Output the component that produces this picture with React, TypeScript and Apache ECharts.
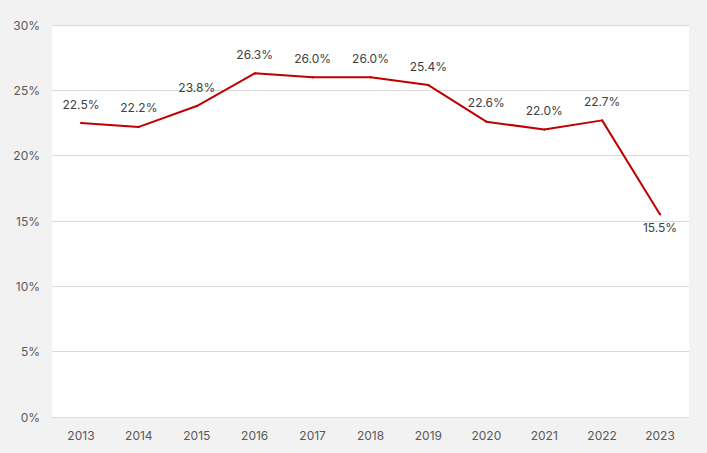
import React, { useEffect, useRef } from "react";
import * as echarts from "echarts";

const years = ["2013", "2014", "2015", "2016", "2017", "2018", "2019", "2020", "2021", "2022", "2023"];
const values = [22.5, 22.2, 23.8, 26.3, 26.0, 26.0, 25.4, 22.6, 22.0, 22.7, 15.5];

export default function App() {
  const ref = useRef<HTMLDivElement>(null);
  useEffect(() => {
    if (!ref.current) return;
    const chart = echarts.init(ref.current, undefined, { renderer: "svg" });
    const font = "Inter, sans-serif";
    const data = values.map((v, i) =>
      i === values.length - 1 ? { value: v, label: { position: "bottom", distance: 6 } } : { value: v }
    );
    chart.setOption({
      animation: false,
      backgroundColor: "#f2f2f2",
      grid: {
        left: 52,
        right: 18,
        top: 25,
        bottom: 36,
        show: true,
        backgroundColor: "#ffffff",
        borderWidth: 0,
      },
      xAxis: {
        type: "category",
        data: years,
        boundaryGap: true,
        axisLine: { show: true, lineStyle: { color: "#d9d9d9" } },
        axisTick: { show: false },
        axisLabel: { color: "#595959", fontFamily: font, fontSize: 12, margin: 12 },
      },
      yAxis: {
        type: "value",
        min: 0,
        max: 30,
        interval: 5,
        axisLine: { show: false },
        axisTick: { show: false },
        splitLine: { lineStyle: { color: "#d9d9d9" } },
        axisLabel: { color: "#595959", fontFamily: font, fontSize: 12, margin: 12, formatter: "{value}%" },
      },
      series: [
        {
          type: "line",
          data,
          showSymbol: true,
          showAllSymbol: true,
          symbol: "circle",
          symbolSize: 2,
          lineStyle: { color: "#c00000", width: 2 },
          itemStyle: { color: "#c00000" },
          label: {
            show: true,
            position: "top",
            distance: 12,
            color: "#404040",
            fontFamily: font,
            fontSize: 12,
            formatter: (p: any) => Number(p.value).toFixed(1) + "%",
          },
        },
      ],
    });
    return () => chart.dispose();
  }, []);
  return <div ref={ref} style={{ position: "fixed", left: 0, top: 0, width: 707, height: 453 }} />;
}
